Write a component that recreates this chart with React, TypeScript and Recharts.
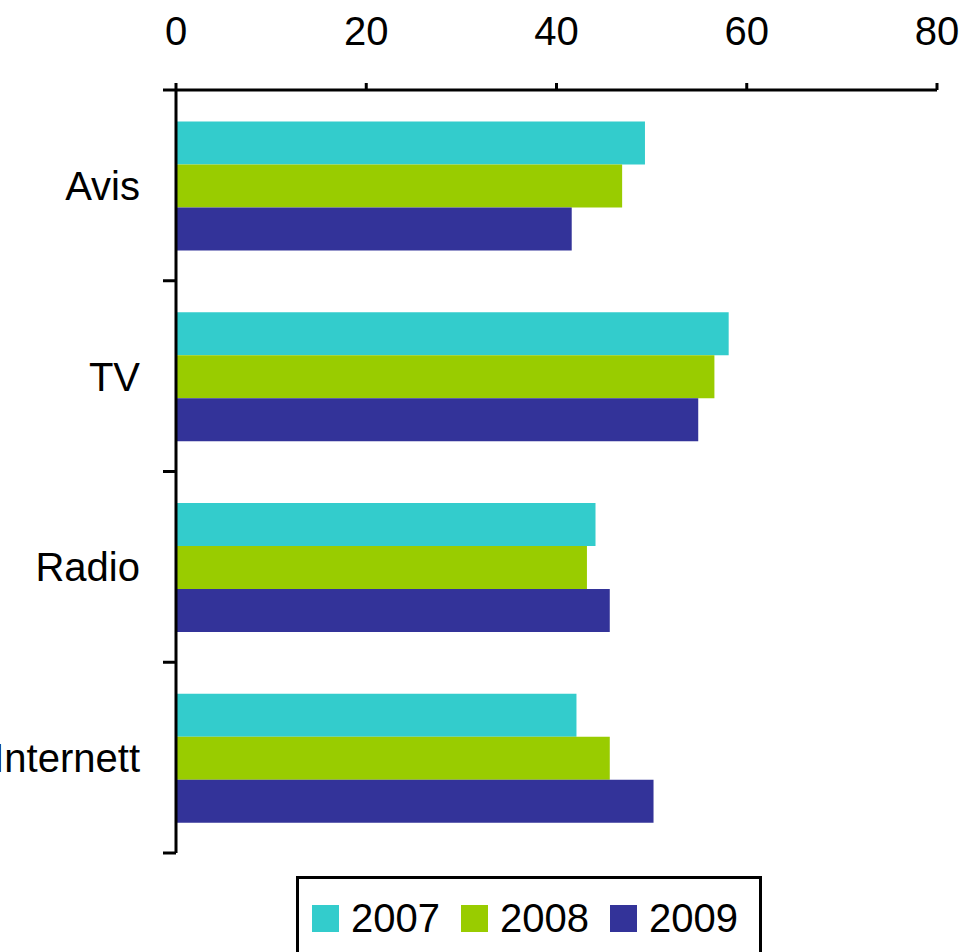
import { BarChart, Bar, XAxis, YAxis } from 'recharts';

// Media usage per category, three survey years
const categories = ['Avis', 'TV', 'Radio', 'Internett'];
const values2007 = [49.3, 58.1, 44.1, 42.1];
const values2008 = [46.9, 56.6, 43.2, 45.6];
const values2009 = [41.6, 54.9, 45.6, 50.2];
const xTicks = [0, 20, 40, 60, 80];

const series = [
  { key: 'y2007', name: '2007', color: '#33CCCC' },
  { key: 'y2008', name: '2008', color: '#99CC00' },
  { key: 'y2009', name: '2009', color: '#333399' },
];

const data = categories.map((name, i) => ({
  name,
  y2007: values2007[i],
  y2008: values2008[i],
  y2009: values2009[i],
}));

const W = 961;
const H = 952;
const MARGIN = { top: 0, right: 24, bottom: 99, left: 0 };
const X_AXIS_H = 90;
const Y_AXIS_W = 176;
const TICK_SIZE = 13;
const TICK_MARGIN = 23;
const FONT = '"Liberation Sans", Arial, sans-serif';

const plotHeight = H - MARGIN.top - MARGIN.bottom - X_AXIS_H;
const band = plotHeight / categories.length;

// category label plus tick marks on the band boundaries
const CategoryTick = (props: any) => {
  const { x, y, payload, index } = props;
  const x1 = x + TICK_MARGIN;
  const x2 = x1 + TICK_SIZE;
  return (
    <g>
      <text x={x} y={y} dy="0.36em" textAnchor="end" fontSize={40} fill="#000" fontFamily={FONT}>
        {payload.value}
      </text>
      <line x1={x1} x2={x2} y1={y + band / 2} y2={y + band / 2} stroke="#000" strokeWidth={3} />
      {index === 0 && (
        <line x1={x1} x2={x2} y1={y - band / 2} y2={y - band / 2} stroke="#000" strokeWidth={3} />
      )}
    </g>
  );
};

export default function App() {
  return (
    <div style={{ position: 'absolute', left: 0, top: 0, width: W, height: H, overflow: 'hidden', background: '#fff', fontFamily: FONT }}>
      <BarChart
        width={W}
        height={H}
        data={data}
        layout="vertical"
        margin={MARGIN}
        barCategoryGap="16.5%"
        barGap={0}
      >
        <XAxis
          type="number"
          orientation="top"
          domain={[0, 80]}
          ticks={xTicks}
          height={X_AXIS_H}
          axisLine={{ stroke: '#000', strokeWidth: 3 }}
          tickLine={{ stroke: '#000', strokeWidth: 3 }}
          tickSize={7}
          tickMargin={38}
          tick={{ fill: '#000', fontSize: 40, fontFamily: FONT }}
        />
        <YAxis
          type="category"
          dataKey="name"
          width={Y_AXIS_W}
          axisLine={{ stroke: '#000', strokeWidth: 3 }}
          tickLine={false}
          tickSize={TICK_SIZE}
          tickMargin={TICK_MARGIN}
          tick={<CategoryTick />}
          interval={0}
        />
        {series.map((s) => (
          <Bar key={s.key} dataKey={s.key} name={s.name} fill={s.color} isAnimationActive={false} />
        ))}
      </BarChart>
      <div
        style={{
          position: 'absolute',
          left: 296,
          top: 876,
          width: 466,
          height: 100,
          boxSizing: 'border-box',
          border: '3px solid #000',
          display: 'flex',
          alignItems: 'flex-start',
          paddingLeft: 13,
          paddingTop: 24,
        }}
      >
        {series.map((s) => (
          <div key={s.key} style={{ display: 'flex', alignItems: 'center', marginRight: 21 }}>
            <span style={{ width: 27, height: 27, background: s.color, display: 'inline-block', marginRight: 12 }} />
            <span style={{ fontSize: 40, lineHeight: '30px', color: '#000' }}>{s.name}</span>
          </div>
        ))}
      </div>
    </div>
  );
}
